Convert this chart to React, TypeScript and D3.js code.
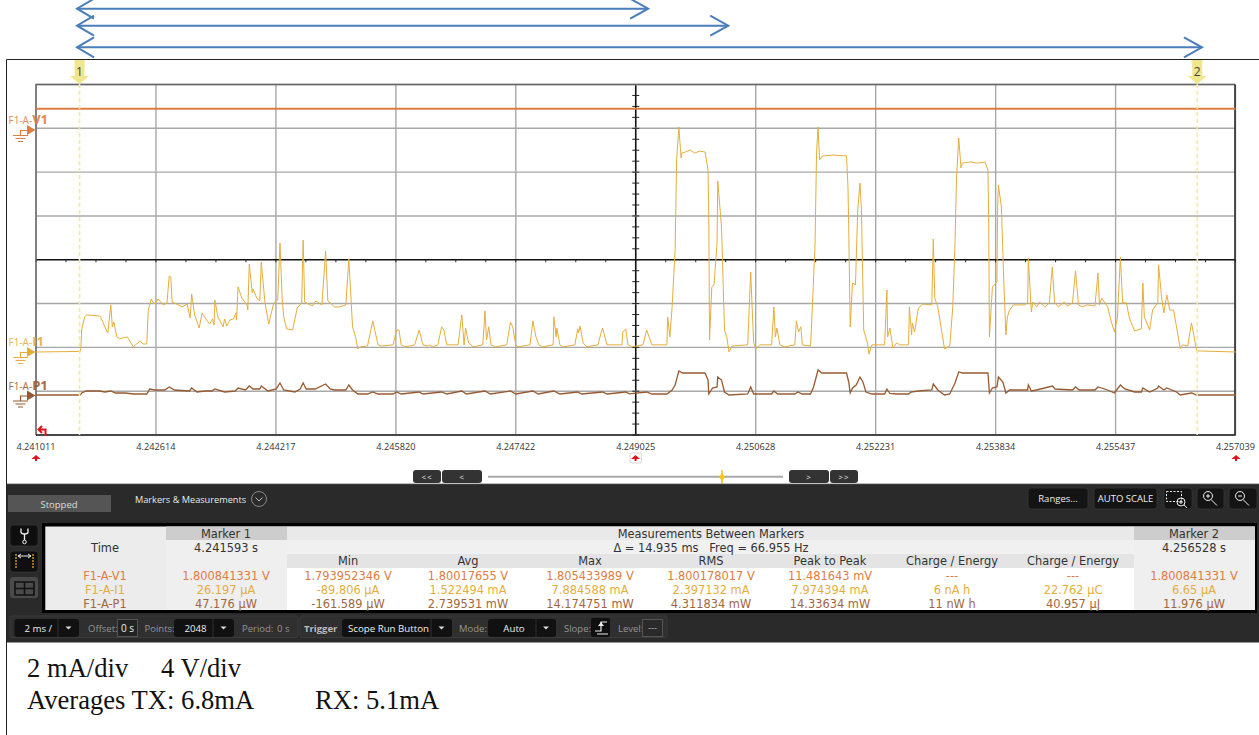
import * as d3 from "d3";

// time from the left edge of the screen in ms, current in mA
const i1Samples: [number, number][] = [
  [0, 0], [0.59, 0.02], [0.6, 0.14], [0.61, 0.77], [0.65, 1.23], [0.68, 1.3], [0.85, 1.26], [0.87, 1.19], [0.95, 0.7], [0.96, 0.67],
  [1.0, 1.65], [1.02, 0.88], [1.04, 1.05], [1.08, 0.53], [1.12, 0.46], [1.22, 0.53], [1.3, 0.18], [1.39, 0.39], [1.43, 0.28], [1.48, 0.28],
  [1.5, 1.47], [1.54, 1.86], [1.56, 1.75], [1.59, 1.68], [1.63, 1.86], [1.7, 1.65], [1.75, 1.72], [1.78, 2.66], [1.8, 2.63], [1.82, 1.75],
  [1.88, 1.68], [1.95, 1.58], [2.02, 1.68], [2.06, 1.19], [2.08, 2.03], [2.12, 1.3], [2.18, 0.84], [2.22, 1.37], [2.28, 1.12], [2.32, 0.98],
  [2.36, 1.16], [2.38, 0.95], [2.39, 1.82], [2.43, 1.23], [2.5, 0.88], [2.52, 1.16], [2.55, 0.91], [2.59, 1.12], [2.64, 1.16], [2.67, 1.37],
  [2.68, 1.12], [2.7, 2.28], [2.75, 1.89], [2.82, 1.65], [2.83, 1.47], [2.85, 3.08], [2.89, 2.07], [2.9, 2.21], [2.95, 1.89], [2.99, 1.79],
  [3.01, 3.15], [3.06, 1.72], [3.11, 0.98], [3.17, 1.65], [3.21, 1.82], [3.23, 1.82], [3.26, 3.82], [3.29, 1.82], [3.31, 1.23], [3.35, 0.81],
  [3.43, 0.77], [3.49, 1.54], [3.55, 1.72], [3.57, 3.92], [3.59, 1.75], [3.69, 1.61], [3.74, 1.79], [3.82, 1.65], [3.87, 3.54], [3.9, 1.79],
  [3.99, 1.58], [4.06, 1.58], [4.14, 1.65], [4.18, 3.26], [4.21, 1.82], [4.23, 0.88], [4.27, 0.53], [4.3, 0.11], [4.33, 0.18], [4.43, 0.21],
  [4.5, 1.09], [4.57, 0.25], [4.62, 0.21], [4.77, 0.25], [4.82, 0.77], [4.85, 0.77], [4.88, 0.25], [4.93, 0.18], [5.06, 0.25], [5.12, 0.77],
  [5.17, 0.25], [5.24, 0.21], [5.26, 0.25], [5.3, 0.18], [5.37, 0.25], [5.42, 0.88], [5.45, 0.77], [5.49, 0.25], [5.64, 0.25], [5.69, 1.3],
  [5.72, 0.25], [5.74, 0.84], [5.78, 0.32], [5.84, 0.18], [5.97, 0.25], [6.0, 1.44], [6.02, 0.42], [6.05, 0.88], [6.08, 0.25], [6.14, 0.18],
  [6.29, 0.25], [6.34, 1.05], [6.37, 0.88], [6.41, 0.25], [6.44, 0.18], [6.6, 0.25], [6.64, 1.09], [6.68, 0.53], [6.72, 0.25], [6.77, 0.18],
  [6.91, 0.25], [6.92, 1.23], [6.95, 0.53], [6.96, 0.84], [7.0, 0.25], [7.04, 0.18], [7.2, 0.25], [7.24, 0.81], [7.25, 0.67], [7.27, 0.91],
  [7.31, 0.32], [7.36, 0.18], [7.51, 0.25], [7.55, 0.67], [7.57, 0.84], [7.63, 0.25], [7.83, 0.25], [7.84, 0.7], [7.88, 0.81], [7.91, 0.25],
  [7.96, 0.18], [8.11, 0.25], [8.16, 0.77], [8.23, 0.25], [8.43, 0.25], [8.44, 1.23], [8.47, 0.53], [8.5, 1.58], [8.54, 3.57], [8.56, 6.73],
  [8.59, 7.88], [8.62, 6.8], [8.63, 6.97], [8.68, 7.01], [8.74, 7.08], [8.8, 6.97], [8.87, 7.04], [8.94, 7.01], [8.98, 6.38], [8.99, 4.73],
  [9.0, 0.42], [9.03, 2.28], [9.06, 2.35], [9.1, 3.82], [9.11, 5.99], [9.16, 4.38], [9.2, 0.77], [9.23, 0.53], [9.26, 0], [9.3, 0.21],
  [9.51, 0.25], [9.55, 2.8], [9.58, 0.88], [9.59, 0.32], [9.62, 0.11], [9.67, 0.25], [9.83, 0.25], [9.86, 1.58], [9.88, 0.53], [9.9, 0.84],
  [9.94, 0.25], [10.0, 0.18], [10.14, 0.25], [10.16, 1.09], [10.19, 0.7], [10.22, 0.88], [10.24, 0.25], [10.35, 0.21], [10.38, 1.93], [10.41, 3.82],
  [10.43, 6.97], [10.45, 7.88], [10.47, 6.73], [10.51, 6.87], [10.67, 6.9], [10.83, 6.87], [10.85, 5.78], [10.86, 4.27], [10.88, 0.88], [10.91, 2.42],
  [10.95, 2.35], [10.98, 4.98], [11.01, 5.92], [11.03, 4.98], [11.06, 0.77], [11.11, 0.32], [11.13, -0.07], [11.17, 0.25], [11.34, 0.25], [11.37, 2.17],
  [11.38, 0.53], [11.41, 0.84], [11.45, 0.14], [11.5, 0.32], [11.54, 0.25], [11.66, 0.25], [11.67, 1.58], [11.7, 0.6], [11.71, 1.02], [11.74, 0.7],
  [11.79, 1.54], [11.85, 1.68], [11.97, 1.65], [11.99, 3.96], [12.01, 1.89], [12.05, 1.58], [12.1, 0.77], [12.14, 0.11], [12.21, 0.21], [12.25, 1.58],
  [12.28, 3.82], [12.3, 6.13], [12.33, 7.5], [12.36, 6.45], [12.38, 6.62], [12.49, 6.66], [12.58, 6.62], [12.68, 6.66], [12.72, 6.38], [12.73, 4.73],
  [12.74, 0.53], [12.78, 2.28], [12.84, 2.45], [12.85, 5.08], [12.86, 5.85], [12.9, 5.08], [12.93, 2.63], [12.96, 0.6], [12.98, 1.23], [13.01, 1.47],
  [13.06, 1.65], [13.21, 1.65], [13.25, 1.72], [13.26, 3.29], [13.3, 1.4], [13.32, 1.75], [13.37, 1.58], [13.41, 1.75], [13.48, 1.58], [13.54, 1.72],
  [13.58, 2.98], [13.61, 1.75], [13.66, 1.58], [13.74, 1.75], [13.78, 1.61], [13.85, 1.72], [13.89, 2.84], [13.93, 1.65], [13.98, 1.58], [14.05, 1.65],
  [14.15, 1.61], [14.19, 2.77], [14.21, 1.65], [14.24, 1.89], [14.32, 1.58], [14.37, 1.05], [14.41, 0.7], [14.45, 1.19], [14.49, 3.33], [14.52, 1.72],
  [14.57, 1.72], [14.61, 1.19], [14.68, 0.74], [14.77, 0.81], [14.79, 2.42], [14.81, 1.23], [14.88, 0.77], [14.92, 1.47], [14.99, 1.72], [15.0, 3.05],
  [15.04, 1.93], [15.07, 1.37], [15.11, 2.0], [15.15, 1.47], [15.2, 1.47], [15.24, 0.88], [15.29, 0.11], [15.32, 0.25], [15.39, 0.21], [15.44, 1.02],
  [15.51, 0.04], [16.03, 0],
];

// same time base, power in mW
const p1Samples: [number, number][] = [
  [0, 0], [0.59, 0], [0.61, 1.11], [0.67, 2.22], [0.85, 2.22], [0.92, 1.67], [1.0, 2.22], [1.06, 1.11], [1.19, 1.11], [1.3, 0.56], [1.48, 0.56],
  [1.52, 3.34], [1.59, 2.78], [1.72, 2.78], [1.78, 4.45], [1.85, 2.78], [2.05, 2.22], [2.08, 3.89], [2.15, 1.67], [2.26, 2.22], [2.35, 2.22],
  [2.39, 3.34], [2.52, 1.67], [2.66, 2.22], [2.7, 3.89], [2.8, 2.78], [2.85, 5.0], [2.9, 3.34], [2.99, 3.34], [3.01, 5.0], [3.1, 2.22],
  [3.21, 3.34], [3.26, 6.67], [3.31, 2.78], [3.46, 1.67], [3.53, 3.34], [3.57, 6.67], [3.61, 3.34], [3.73, 3.34], [3.87, 6.12], [3.93, 3.34],
  [3.99, 2.78], [4.14, 2.78], [4.18, 5.56], [4.23, 2.78], [4.3, 0.56], [4.43, 0.56], [4.5, 1.67], [4.57, 0.56], [4.77, 0.56], [4.82, 1.67],
  [4.88, 0.56], [5.12, 1.67], [5.17, 0.56], [5.42, 1.67], [5.49, 0.56], [5.69, 2.22], [5.75, 0.56], [6.0, 2.22], [6.07, 0.56], [6.34, 2.22],
  [6.41, 0.56], [6.64, 2.22], [6.71, 0.56], [6.92, 2.22], [7.0, 0.56], [7.24, 1.67], [7.29, 0.56], [7.57, 1.67], [7.63, 0.56], [7.88, 1.67],
  [7.93, 0.67], [8.16, 1.67], [8.23, 0.56], [8.43, 0.56], [8.5, 2.78], [8.54, 5.56], [8.59, 13.34], [8.64, 12.23], [8.74, 12.23], [8.94, 12.23],
  [8.98, 8.34], [8.99, 0.56], [9.04, 3.89], [9.1, 4.45], [9.11, 10.0], [9.16, 8.34], [9.2, 1.67], [9.26, 0], [9.51, 0.56], [9.55, 4.45],
  [9.59, 0.56], [9.83, 0.56], [9.86, 2.22], [9.91, 0.56], [10.14, 0.56], [10.18, 1.67], [10.24, 0.56], [10.35, 0.56], [10.39, 4.45], [10.45, 13.9],
  [10.5, 12.23], [10.83, 12.23], [10.86, 7.23], [10.88, 1.11], [10.91, 3.89], [10.96, 5.56], [11.01, 10.0], [11.05, 7.23], [11.09, 1.67], [11.17, 0.56],
  [11.34, 0.56], [11.37, 3.34], [11.41, 0.84], [11.5, 0.56], [11.66, 0.56], [11.69, 1.67], [11.79, 2.22], [11.97, 2.78], [11.99, 6.12], [12.05, 2.78],
  [12.14, 0], [12.21, 0.56], [12.28, 6.67], [12.33, 12.79], [12.38, 12.23], [12.72, 12.23], [12.74, 1.11], [12.78, 3.89], [12.84, 4.45], [12.86, 10.0],
  [12.92, 7.23], [12.96, 1.11], [13.01, 2.78], [13.25, 2.78], [13.26, 5.56], [13.3, 2.22], [13.37, 2.78], [13.58, 5.0], [13.62, 3.34], [13.85, 2.78],
  [13.89, 4.45], [13.94, 2.78], [14.15, 2.78], [14.19, 4.45], [14.32, 2.78], [14.41, 1.11], [14.49, 5.56], [14.55, 3.34], [14.68, 1.67], [14.77, 1.67],
  [14.79, 3.89], [14.88, 1.67], [14.99, 3.89], [15.0, 5.0], [15.07, 2.78], [15.11, 3.89], [15.24, 1.67], [15.29, 0], [15.44, 1.11], [15.51, 0], [16.03, 0],
];

const v1Samples: [number, number][] = [[0, 1.8008], [16.03, 1.8008]];

const timeLabels = ["4.241011", "4.242614", "4.244217", "4.245820", "4.247422", "4.249025", "4.250628", "4.252231", "4.253834", "4.255437", "4.257039"];
const markerTimes = [4.241593, 4.256528];
const arrowEndsMs = [8.18, 9.25, 15.58];
const divisions = d3.range(0, 9);

const measureHeads = ["Min", "Avg", "Max", "RMS", "Peak to Peak", "Charge / Energy", "Charge / Energy"];
const measureCenters = [348, 468, 590, 711, 830, 952, 1073];
const traceNames = ["F1-A-V1", "F1-A-I1", "F1-A-P1"];
const marker1Values = ["1.800841331 V", "26.197 µA", "47.176 µW"];
const marker2Values = ["1.800841331 V", "6.65 µA", "11.976 µW"];
const v1Values = ["1.793952346 V", "1.80017655 V", "1.805433989 V", "1.800178017 V", "11.481643 mV", "---", "---"];
const i1Values = ["-89.806 µA", "1.522494 mA", "7.884588 mA", "2.397132 mA", "7.974394 mA", "6 nA h", "22.762 µC"];
const p1Values = ["-161.589 µW", "2.739531 mW", "14.174751 mW", "4.311834 mW", "14.33634 mW", "11 nW h", "40.957 µJ"];

const V_COLOR = "#dc7d42";
const I_COLOR = "#e4ae3c";
const P_COLOR = "#985a30";
const uiFont = "'Open Sans', sans-serif";
const tableFont = "'DejaVu Sans', sans-serif";

const t0 = +timeLabels[0];
const left = 36;
const right = 1235;
const top = 84.5;
const bottom = 435;

const x = d3.scaleLinear().domain([0, 16.028]).range([left, right + 0.5]);
const xAbs = (s: number) => x((s - t0) * 1000);
const gridY = d3.scaleLinear().domain([0, 8]).range([top, bottom]);
const yI = d3.scaleLinear().domain([0, 7.884588]).range([352, 127]);
const yP = d3.scaleLinear().domain([0, 14.174751]).range([395, 369.5]);
const yV = d3.scaleLinear().domain([0, 1.8]).range([130, 108.7]);

const pathOf = (y: d3.ScaleLinear<number, number>, samples: [number, number][]) =>
  d3.line<[number, number]>().x((d) => x(d[0])).y((d) => y(d[1]))(samples) ?? "";

const Ground = ({ y, color }: { y: number; color: string }) => (
  <g fill="none" stroke={color} strokeWidth={1.2}>
    <path d={`M20.5 ${y + 5.5}V${y + 0.5}H29`} />
    <path d={`M13 ${y + 5.5}H28M15.5 ${y + 8.5}H25.5M18 ${y + 11.5}H23`} />
    <path d={`M27 ${y - 5}L35.5 ${y}L27 ${y + 5}Z`} fill={color} stroke="none" />
  </g>
);

const TraceLabel = ({ y, name, color }: { y: number; name: string; color: string }) => (
  <text x={8.5} y={y} fontFamily={uiFont} fontSize={10} fill={color} opacity={0.9}>
    F1-A-
    <tspan fontWeight={700} fontSize={13}>{name}</tspan>
  </text>
);

const RedUp = ({ cx, cy }: { cx: number; cy: number }) => (
  <path d={`M${cx} ${cy - 3}L${cx + 4.5} ${cy + 1}H${cx + 1}V${cy + 3}H${cx - 1}V${cy + 1}H${cx - 4.5}Z`} fill="#e0131b" />
);

const MarkerFlag = ({ time, label }: { time: number; label: string }) => {
  const mx = xAbs(time);
  return (
    <g>
      <line x1={mx} x2={mx} y1={84} y2={bottom} stroke="#f6e99b" strokeWidth={1.6} strokeDasharray="4 3" />
      <path d={`M${mx - 5} 60H${mx + 5}V76H${mx + 9.5}L${mx} 84L${mx - 9.5} 76H${mx - 5}Z`} fill="#f0e68c" />
      <text x={mx} y={76} textAnchor="middle" fontFamily={uiFont} fontSize={12} fill="#444">{label}</text>
    </g>
  );
};

const DarkButton = ({ x0, x1, y0, y1, label, size = 9.5 }: { x0: number; x1: number; y0: number; y1: number; label: string; size?: number }) => (
  <g>
    <rect x={x0} y={y0} width={x1 - x0} height={y1 - y0} rx={3} fill="#141414" stroke="#3a3a3a" strokeWidth={0.7} />
    <text x={(x0 + x1) / 2} y={(y0 + y1) / 2 + size * 0.36} textAnchor="middle" fontFamily={uiFont} fontSize={size} fill="#eee">{label}</text>
  </g>
);

const Dropdown = ({ x0, split, x1, label }: { x0: number; split: number; x1: number; label: string }) => (
  <g>
    <rect x={x0} y={619} width={x1 - x0} height={18} rx={3} fill="#111" />
    <line x1={split} x2={split} y1={619} y2={637} stroke="#333" />
    <text x={(x0 + split) / 2 + 2} y={631.5} textAnchor="middle" fontFamily={uiFont} fontSize={9.7} fill="#eee">{label}</text>
    <path d={`M${(split + x1) / 2 - 3} 626.5h6l-3 3z`} fill="#ddd" />
  </g>
);

const Dim = ({ x: tx, children, fill = "#959595", bold = false }: { x: number; children: string; fill?: string; bold?: boolean }) => (
  <text x={tx} y={631.5} fontFamily={uiFont} fontSize={9.5} fill={fill} fontWeight={bold ? 700 : 400}>{children}</text>
);

const Cell = ({ cx, y, children, fill = "#333" }: { cx: number; y: number; children: string; fill?: string }) => (
  <text x={cx} y={y} textAnchor="middle" fontFamily={tableFont} fontSize={11.4} fill={fill}>{children}</text>
);

const rowColors = [V_COLOR, I_COLOR, "#a0673f"];
const rowBaselines = [579.5, 593.5, 607.5];
const rowValues = [v1Values, i1Values, p1Values];

export default function App() {
  const arrowY = [8.7, 25.7, 47.3];
  return (
    <svg width={1259} height={735} viewBox="0 0 1259 735" style={{ position: "fixed", left: 0, top: 0, display: "block", background: "#fff" }}>
      {/* arrows over the capture */}
      <g fill="none" stroke="#4a7ebb" strokeWidth={2}>
        {arrowEndsMs.map((ms, i) => {
          const ax = x(ms);
          return (
            <g key={i}>
              <line x1={77} x2={ax} y1={arrowY[i]} y2={arrowY[i]} />
              <path d={`M94 ${arrowY[i] - 10}L77 ${arrowY[i]}L94 ${arrowY[i] + 10}`} />
              <path d={`M${ax - 18} ${arrowY[i] - 10}L${ax} ${arrowY[i]}L${ax - 18} ${arrowY[i] + 10}`} />
            </g>
          );
        })}
      </g>

      <path d="M1259 59.5H6.5V735" fill="none" stroke="#222" strokeWidth={1} />

      {/* scope grid */}
      <g stroke="#a8a8a8" strokeWidth={1.4}>
        {timeLabels.map((d, i) => (
          <line key={d} x1={xAbs(+d)} x2={xAbs(+d)} y1={top} y2={bottom} stroke={i === 5 ? "#111" : undefined} strokeWidth={i === 5 ? 1.6 : undefined} />
        ))}
        {divisions.map((d) => (
          <line key={d} x1={left} x2={right} y1={gridY(d)} y2={gridY(d)} stroke={d === 4 ? "#111" : undefined} strokeWidth={d === 4 ? 1.6 : undefined} />
        ))}
      </g>
      <g stroke="#222" strokeWidth={1}>
        {d3.range(0, 41).map((i) => (
          <line key={i} x1={x(i * 0.4007)} x2={x(i * 0.4007)} y1={gridY(4)} y2={gridY(4) + 2.5} />
        ))}
        {d3.range(0, 33).map((i) => (
          <line key={i} x1={xAbs(+timeLabels[5]) - 3.5} x2={xAbs(+timeLabels[5]) + 3.5} y1={gridY(i * 0.25)} y2={gridY(i * 0.25)} />
        ))}
      </g>
      <path d={`M${left} ${bottom}V${top}H${right}`} fill="none" stroke="#666" strokeWidth={1.4} />
      <path d={`M${left} ${bottom}H${right}V${top}`} fill="none" stroke="#222" strokeWidth={1.5} />

      {/* traces */}
      <path d={pathOf(yV, v1Samples)} fill="none" stroke={V_COLOR} strokeWidth={2} />
      <path d={pathOf(yP, p1Samples)} fill="none" stroke={P_COLOR} strokeWidth={1.3} />
      <path d={pathOf(yI, i1Samples)} fill="none" stroke={I_COLOR} strokeWidth={1} strokeLinejoin="round" />

      {markerTimes.map((t, i) => <MarkerFlag key={t} time={t} label={String(i + 1)} />)}

      <TraceLabel y={124} name="V1" color={V_COLOR} />
      <Ground y={130} color={V_COLOR} />
      <TraceLabel y={346} name="I1" color={I_COLOR} />
      <Ground y={352} color={I_COLOR} />
      <TraceLabel y={390} name="P1" color={P_COLOR} />
      <Ground y={395.5} color={P_COLOR} />

      {/* trigger mark */}
      <path d="M45.5 436V429.5H39.5M42 426L38.5 429.5L42 433" fill="none" stroke="#e0131b" strokeWidth={2} />

      {timeLabels.map((d) => (
        <text key={d} x={xAbs(+d)} y={450} textAnchor="middle" fontFamily={uiFont} fontSize={9.2} fill="#333">{d}</text>
      ))}
      <RedUp cx={36} cy={458} />
      <RedUp cx={1236} cy={458} />
      <rect x={630} y={453} width={11.5} height={10} rx={2} fill="#fff" stroke="#ccc" strokeWidth={0.8} />
      <RedUp cx={635.5} cy={458} />

      {/* scroll strip */}
      <line x1={488} x2={783} y1={476.7} y2={476.7} stroke="#a9a9a9" strokeWidth={2} />
      <line x1={722} x2={722} y1={470} y2={484} stroke="#f5c518" strokeWidth={1.6} />
      <path d="M722 473L725 477L722 481L719 477Z" fill="#f5c518" />
      {[[413, 441, "<<"], [442, 482, "<"], [789, 829, ">"], [830, 858, ">>"]].map(([a, b, t]) => (
        <g key={String(t)}>
          <rect x={a as number} y={470} width={(b as number) - (a as number)} height={13} rx={3} fill="#333" />
          <text x={((a as number) + (b as number)) / 2} y={480} textAnchor="middle" fontFamily={uiFont} fontSize={8} fill="#eee" letterSpacing={1}>{t}</text>
        </g>
      ))}

      {/* control panel */}
      <rect x={7} y={484} width={1252} height={158.5} fill="#2a2a2a" />
      <line x1={7} x2={1259} y1={483.7} y2={483.7} stroke="#999" strokeWidth={0.8} />
      <rect x={8} y={495} width={103} height={17} fill="#555" />
      <text x={59} y={507.5} textAnchor="middle" fontFamily={uiFont} fontSize={9.5} fill="#ddd">Stopped</text>
      <text x={135} y={502.5} fontFamily={uiFont} fontSize={9.2} fill="#e8e8e8">Markers &amp; Measurements</text>
      <circle cx={259} cy={499} r={7.5} fill="none" stroke="#888" />
      <path d="M255.5 497.5L259 501L262.5 497.5" fill="none" stroke="#bbb" />

      <DarkButton x0={1028} x1={1088} y0={488} y1={509} label="Ranges..." />
      <DarkButton x0={1094} x1={1157} y0={488} y1={509} label="AUTO SCALE" />
      <DarkButton x0={1164} x1={1192} y0={488} y1={509} label="" />
      <DarkButton x0={1197} x1={1224} y0={488} y1={509} label="" />
      <DarkButton x0={1229} x1={1257} y0={488} y1={509} label="" />
      <g fill="none" stroke="#eee" strokeWidth={1}>
        <rect x={1166.5} y={491.5} width={15} height={10} strokeDasharray="2 1.5" />
        <circle cx={1181} cy={502} r={4} />
        <path d="M1184 505L1187 508M1179 502H1183M1181 500V504" />
        <circle cx={1208} cy={496} r={4.5} />
        <path d="M1211 499.5L1217 505.5M1206 496H1210M1208 494V498" />
        <circle cx={1240} cy={496} r={4.5} />
        <path d="M1243 499.5L1249 505.5M1238 496H1242" />
      </g>

      {/* side tool buttons */}
      {[525, 551].map((by) => <rect key={by} x={10} y={by} width={28} height={21} rx={3} fill="#0f0f0f" stroke="#3a3a3a" strokeWidth={0.7} />)}
      <rect x={10} y={577} width={28} height={21} rx={3} fill="#4a4a4a" />
      <path d="M21 528.5V532Q21 534 24.5 534Q28 534 28 532V528.5M24.5 534V540" fill="none" stroke="#eee" strokeWidth={1.3} />
      <circle cx={24.5} cy={542} r={1.8} fill="none" stroke="#eee" />
      <path d="M18 556H31M18 556l3-2M18 556l3 2M31 556l-3-2M31 556l-3 2" fill="none" stroke="#eee" />
      <path d="M16 554V569M33 554V569" stroke="#d99a1e" strokeWidth={1.4} strokeDasharray="2 1" />
      <path d="M15 582H34V595H15ZM24.5 582V595M15 588.5H34" fill="none" stroke="#111" strokeWidth={1.6} />

      {/* measurement table */}
      <rect x={42} y={523} width={1215} height={90} fill="#000" />
      <rect x={45.3} y={526.5} width={1209.7} height={83.5} fill="#ececec" />
      <rect x={166} y={526.5} width={121} height={13.5} fill="#cdcdcd" />
      <rect x={1134} y={526.5} width={121} height={13.5} fill="#cdcdcd" />
      <rect x={287} y={526.5} width={847} height={13.5} fill="#e9e9e9" />
      <rect x={287} y={540} width={847} height={14} fill="#f0f0f0" />
      <rect x={166} y={540} width={121} height={70} fill="#efefef" />
      <rect x={1134} y={540} width={121} height={70} fill="#efefef" />
      <rect x={287} y={554} width={847} height={14} fill="#e4e4e4" />
      <rect x={287} y={568} width={847} height={42} fill="#fff" />

      <Cell cx={105} y={551.7}>Time</Cell>
      <Cell cx={226} y={537.7}>Marker 1</Cell>
      <Cell cx={226} y={551.7}>4.241593 s</Cell>
      <Cell cx={1194} y={537.7}>Marker 2</Cell>
      <Cell cx={1194} y={551.7}>4.256528 s</Cell>
      <Cell cx={711} y={537.7}>Measurements Between Markers</Cell>
      <Cell cx={711} y={551.7}>{"Δ = 14.935 ms\u00a0\u00a0\u00a0Freq = 66.955 Hz"}</Cell>
      {measureHeads.map((h, i) => <Cell key={i} cx={measureCenters[i]} y={565.3}>{h}</Cell>)}
      {traceNames.map((name, r) => (
        <g key={name}>
          <Cell cx={105} y={rowBaselines[r]} fill={rowColors[r]}>{name}</Cell>
          <Cell cx={226} y={rowBaselines[r]} fill={rowColors[r]}>{marker1Values[r]}</Cell>
          <Cell cx={1194} y={rowBaselines[r]} fill={rowColors[r]}>{marker2Values[r]}</Cell>
          {rowValues[r].map((v, c) => (
            <Cell key={c} cx={measureCenters[c]} y={rowBaselines[r]} fill={rowColors[r]}>{v}</Cell>
          ))}
        </g>
      ))}

      {/* bottom controls */}
      <rect x={10} y={616} width={288} height={21.5} rx={2} fill="#2f2f2f" stroke="#3b3b3b" />
      <rect x={300} y={616} width={367} height={21.5} rx={2} fill="#2f2f2f" stroke="#3b3b3b" />
      <Dropdown x0={14.5} split={58} x1={79} label="2 ms /" />
      <Dim x={88}>Offset:</Dim>
      <rect x={117.5} y={619.5} width={20} height={17} fill="#222" stroke="#555" />
      <text x={127.5} y={632} textAnchor="middle" fontFamily={uiFont} fontSize={10} fill="#eee">0 s</text>
      <Dim x={144.5}>Points:</Dim>
      <Dropdown x0={174} split={213} x1={234} label="2048" />
      <Dim x={242}>Period:</Dim>
      <Dim x={277}>0 s</Dim>
      <Dim x={304} fill="#bbb" bold>Trigger</Dim>
      <Dropdown x0={342} split={431} x1={452} label="Scope Run Button" />
      <Dim x={459}>Mode:</Dim>
      <Dropdown x0={488} split={536} x1={556} label="Auto" />
      <Dim x={564}>Slope:</Dim>
      <rect x={591} y={618} width={19} height={19} rx={2} fill="#0f0f0f" />
      <path d="M595 631H601V622H607M597 634H608" fill="none" stroke="#eee" strokeWidth={1.2} />
      <path d="M601 622l-3 4h6z" fill="#eee" />
      <Dim x={618}>Level:</Dim>
      <rect x={642.5} y={619.5} width={20} height={17} fill="#2a2a2a" stroke="#555" />
      <text x={652.5} y={631} textAnchor="middle" fontFamily={uiFont} fontSize={9.5} fill="#bbb">---</text>

      {/* note under the capture */}
      <g fontFamily="'Liberation Serif', serif" fontSize={26.6} fill="#111">
        <text x={27} y={677}>2 mA/div</text>
        <text x={161} y={677}>4 V/div</text>
        <text x={27} y={709}>Averages TX: 6.8mA</text>
        <text x={315} y={709}>RX: 5.1mA</text>
      </g>
    </svg>
  );
}
